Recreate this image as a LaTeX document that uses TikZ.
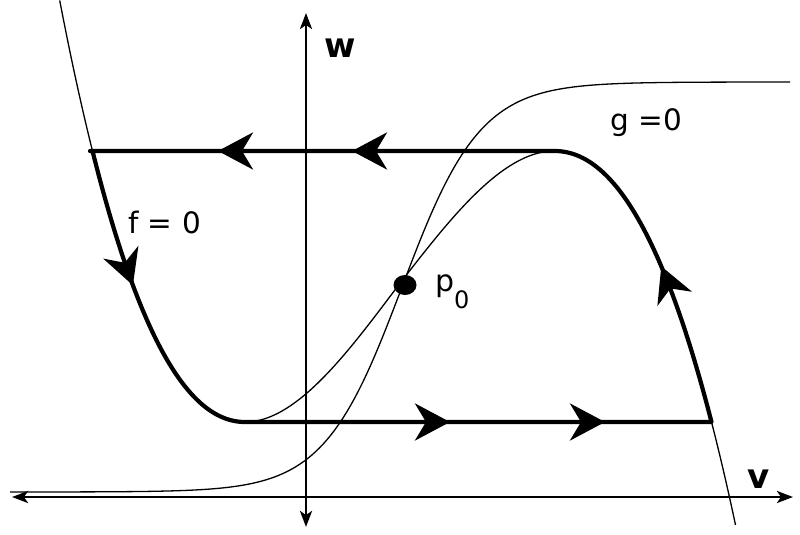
\documentclass[tikz,border=0pt]{standalone}
\usepackage{fontspec}
\setmainfont{DejaVu Sans}
\usetikzlibrary{arrows.meta,shapes.geometric}
\begin{document}
\begin{tikzpicture}[x=1pt,y=-1pt,
  nullc/.style={line width=1.3pt},
  axisline/.style={line width=2.6pt, {Stealth[length=16pt,width=12pt,inset=4pt]}-{Stealth[length=16pt,width=12pt,inset=4pt]}},
  traj/.style={line width=4.2pt, line join=round},
  trajarrow/.style={line width=4.2pt, -{Stealth[length=35pt,width=37pt,inset=11pt]}},
  lbl/.style={inner sep=0pt, anchor=base west, font=\fontsize{29.5}{35}\selectfont},
  axlbl/.style={inner sep=0pt, anchor=base west, font=\bfseries\fontsize{34}{40}\selectfont}]
\useasboundingbox (0,0) rectangle (800,535);

% sigmoid nullcline g=0
\draw[nullc] plot[domain=10:790, samples=200] (\x, {287-205*tanh((\x-402)/78)});

% cubic nullcline f=0, thin parts
\draw[nullc] plot[variable=\t, domain=-2.215:-2, samples=20] ({397.5+152.5*(\t)},{286.5-67.75*(3*(\t)-(\t)*(\t)*(\t))});
\draw[nullc] plot[variable=\t, domain=-1:0, samples=60] ({397.5+152.5*(\t)},{286.5-67.75*(3*(\t)-(\t)*(\t)*(\t))})
  -- plot[variable=\t, domain=0:1, samples=60] ({397.5+157*(\t)},{286.5-67.75*(3*(\t)-(\t)*(\t)*(\t))});
\draw[nullc] plot[variable=\t, domain=2:2.153, samples=20] ({397.5+157*(\t)},{286.5-67.75*(3*(\t)-(\t)*(\t)*(\t))});

% axes
\draw[axisline] (306,527) -- (306,13);
\draw[axisline] (12,497) -- (793,497);

% relaxation cycle
\draw[traj] (554.5,151) -- (90,151)
  -- plot[variable=\t, domain=-2:-1, samples=80] ({397.5+152.5*(\t)},{286.5-67.75*(3*(\t)-(\t)*(\t)*(\t))})
  -- (711.5,422)
  -- plot[variable=\t, domain=2:1, samples=80] ({397.5+157*(\t)},{286.5-67.75*(3*(\t)-(\t)*(\t)*(\t))})
  -- cycle;

% direction arrows
\draw[trajarrow] (395,151) -- (352,151);
\draw[trajarrow] (260,151) -- (218,151);
\draw[trajarrow] (410,422) -- (450,422);
\draw[trajarrow] (565,422) -- (605,422);
\draw[trajarrow] ({397.5+152.5*(-1.76)},{286.5-67.75*(3*(-1.76)-(-1.76)*(-1.76)*(-1.76))}) -- ({397.5+152.5*(-1.735)},{286.5-67.75*(3*(-1.735)-(-1.735)*(-1.735)*(-1.735))});
\draw[trajarrow] ({397.5+157*(1.71)},{286.5-67.75*(3*(1.71)-(1.71)*(1.71)*(1.71))}) -- ({397.5+157*(1.68)},{286.5-67.75*(3*(1.68)-(1.68)*(1.68)*(1.68))});

% fixed point
\node[ellipse, fill, minimum width=23pt, minimum height=20pt, inner sep=0pt] (p0) at (405,285) {};

% labels
\node[axlbl] (wlab) at (324,58) {w};
\node[axlbl] (vlab) at (747,488) {v};
\node[lbl] (flab) at (128,233) {f = 0};
\node[lbl] (glab) at (610,130) {g =0};
\node[lbl, font=\fontsize{30}{36}\selectfont] (plab) at (435,291) {p\raisebox{-17pt}{\fontsize{24}{29}\selectfont 0}};
\end{tikzpicture}
\end{document}
